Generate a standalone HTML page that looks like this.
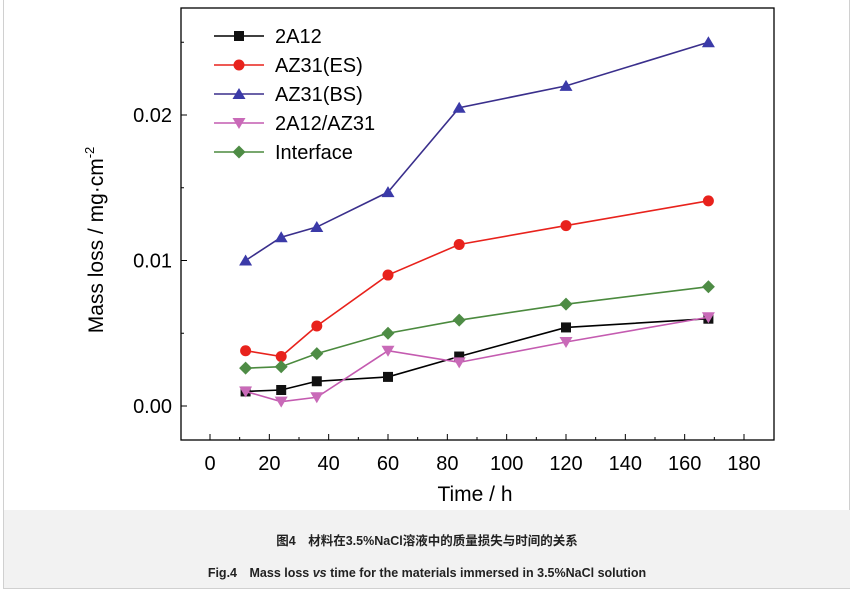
<!DOCTYPE html>
<html><head><meta charset="utf-8"><style>
body{margin:0;background:#fff;}
#wrap{position:relative;width:855px;height:598px;overflow:hidden;font-family:"Liberation Sans","Noto Sans CJK SC",sans-serif;}
#frame{position:absolute;left:3px;top:-2px;width:847px;height:591px;border:1px solid #d0d0d0;box-sizing:border-box;}
#cap{position:absolute;left:4px;top:510px;width:846px;height:78px;background:#f2f2f2;}
.c{position:absolute;left:0;width:100%;text-align:center;font-weight:bold;font-size:12.5px;color:#222;}
</style></head><body>
<div id="wrap">
<div id="frame"></div>
<svg id="chart" width="855" height="510" style="position:absolute;left:0;top:0"></svg>
<div id="cap">
<div class="c" style="top:20px">图4　材料在3.5%NaCl溶液中的质量损失与时间的关系</div>
<div class="c" style="top:52px">Fig.4　Mass loss <i>vs</i> time for the materials immersed in 3.5%NaCl solution</div>
</div>
</div>
<script>
const times=[12,24,36,60,84,120,168];
const s2A12=[0.0010,0.0011,0.0017,0.0020,0.0034,0.0054,0.0060];
const sES=[0.0038,0.0034,0.0055,0.0090,0.0111,0.0124,0.0141];
const sBS=[0.0100,0.0116,0.0123,0.0147,0.0205,0.0220,0.0250];
const sCouple=[0.0010,0.0003,0.0006,0.0038,0.0030,0.0044,0.0061];
const sIface=[0.0026,0.0027,0.0036,0.0050,0.0059,0.0070,0.0082];
const xTicks=[0,20,40,60,80,100,120,140,160,180];
const yTicks=[0,0.01,0.02];
const yLabels=["0.00","0.01","0.02"];
const names=["2A12","AZ31(ES)","AZ31(BS)","2A12/AZ31","Interface"];
const NS="http://www.w3.org/2000/svg";
const svg=document.getElementById('chart');
const X=v=>210+v*(744-210)/180;
const Y=v=>406-v*14550;
function mk(t,a,p){const e=document.createElementNS(NS,t);for(const k in a)e.setAttribute(k,a[k]);(p||svg).appendChild(e);return e;}
const box=mk('rect',{x:181,y:8,width:593,height:432,fill:'none',stroke:'#000','stroke-width':1.3});


xTicks.forEach(t=>{
 mk('line',{x1:X(t),x2:X(t),y1:440,y2:434,stroke:'#000'});
 const tx=mk('text',{x:X(t),y:470,'text-anchor':'middle','font-size':20,'font-family':'Liberation Sans'});tx.textContent=t;
 
 
});
for(let t=10;t<180;t+=20)mk('line',{x1:X(t),x2:X(t),y1:440,y2:437,stroke:'#000'});
yTicks.forEach((t,i)=>{
 mk('line',{x1:181,x2:187,y1:Y(t),y2:Y(t),stroke:'#000'});
 const tx=mk('text',{x:172,y:Y(t)+7,'text-anchor':'end','font-size':20,'font-family':'Liberation Sans'});tx.textContent=yLabels[i];
 
 
});
[0.005,0.015,0.025].forEach(t=>mk('line',{x1:181,x2:184,y1:Y(t),y2:Y(t),stroke:'#000'}));
const xt=mk('text',{x:475,y:501,'text-anchor':'middle','font-size':21,'font-family':'Liberation Sans'});xt.textContent='Time / h';


const yt=mk('text',{transform:'translate(103,240) rotate(-90)','text-anchor':'middle','font-size':21,'font-family':'Liberation Sans'});
yt.innerHTML='Mass loss / mg·cm<tspan dy="-9" font-size="13">-2</tspan>';


const series=[s2A12,sES,sBS,sCouple,sIface];
const colors=['#000','#e8221c','#3a2f8c','#c45bb0','#4b8a3e'];
const fills=['#111','#e8221c','#3b3aa8','#c96ab8','#4e8c45'];
function marker(k,x,y,g){
 const f=fills[k];
 if(k==0)mk('rect',{x:x-5,y:y-5,width:10,height:10,fill:f},g);
 else if(k==1)mk('circle',{cx:x,cy:y,r:5.5,fill:f},g);
 else if(k==2)mk('polygon',{points:`${x},${y-6} ${x-6.5},${y+5} ${x+6.5},${y+5}`,fill:f},g);
 else if(k==3)mk('polygon',{points:`${x},${y+6} ${x-6.5},${y-5} ${x+6.5},${y-5}`,fill:f},g);
 else mk('polygon',{points:`${x},${y-6.5} ${x+6.5},${y} ${x},${y+6.5} ${x-6.5},${y}`,fill:f},g);
}
series.forEach((s,k)=>{
 const g=mk('g',{});
 
 
 mk('polyline',{points:s.map((v,i)=>X(times[i])+','+Y(v)).join(' '),fill:'none',stroke:colors[k],'stroke-width':1.6},g);
 s.forEach((v,i)=>marker(k,X(times[i]),Y(v),g));
 const ly=36+k*29;
 const lg=mk('g',{});
 
 
 mk('line',{x1:214,x2:264,y1:ly,y2:ly,stroke:colors[k],'stroke-width':1.6},lg);
 marker(k,239,ly,lg);
 const t=mk('text',{x:275,y:ly+7,'font-size':20,'font-family':'Liberation Sans'},lg);t.textContent=names[k];
});
</script>
</body></html>
